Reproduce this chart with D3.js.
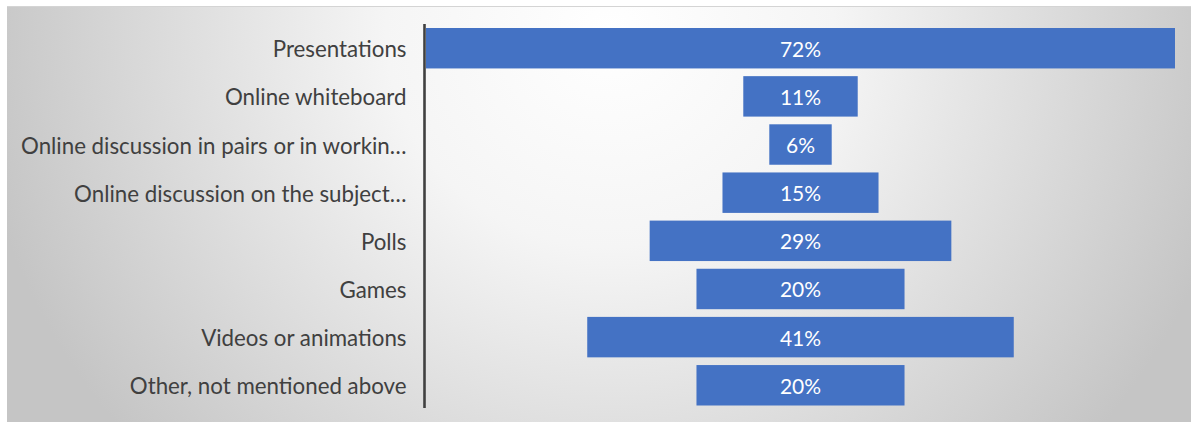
<!DOCTYPE html>
<html>
<head>
<meta charset="utf-8">
<script src="https://cdn.jsdelivr.net/npm/d3@7"></script>
<style>
  html, body { margin: 0; padding: 0; background: #ffffff; }
  svg { display: block; }
</style>
</head>
<body>
<svg id="chart" width="1191" height="422"></svg>
<script>
// Activities used in online lessons (share of respondents)
const categories = [
  "Presentations",
  "Online whiteboard",
  "Online discussion in pairs or in workin…",
  "Online discussion on the subject…",
  "Polls",
  "Games",
  "Videos or animations",
  "Other, not mentioned above"
];
const values = [72, 11, 6, 15, 29, 20, 41, 20];
const valueLabels = ["72%", "11%", "6%", "15%", "29%", "20%", "41%", "20%"];

const W = 1191, H = 422;
const svg = d3.select("#chart");

// Background panel with soft elliptical shading, lightest near the top middle
const gcx = 610, gcy = 30, grx = 640, gry = 620;
const defs = svg.append("defs");
const grad = defs.append("radialGradient")
  .attr("id", "bg")
  .attr("gradientUnits", "userSpaceOnUse")
  .attr("cx", gcx).attr("cy", gcy).attr("r", grx)
  .attr("gradientTransform",
    `translate(${gcx},${gcy}) scale(1,${gry / grx}) translate(${-gcx},${-gcy})`);
grad.append("stop").attr("offset", 0).attr("stop-color", "#ffffff");
grad.append("stop").attr("offset", 0.35).attr("stop-color", "#f5f5f5");
grad.append("stop").attr("offset", 1).attr("stop-color", "#c5c5c5");

svg.append("rect")
  .attr("x", 7).attr("y", 6)
  .attr("width", W - 7).attr("height", H - 6)
  .attr("fill", "url(#bg)");
svg.append("line")
  .attr("x1", 7).attr("x2", W).attr("y1", 6.5).attr("y2", 6.5)
  .attr("stroke", "#d4d4d4").attr("stroke-width", 1);

// Scales: bars are centred around the middle of the plot area
const maxV = d3.max(values);
const x = d3.scaleLinear().domain([-maxV / 2, maxV / 2]).range([426, 1175]);
const y = d3.scaleBand().domain(categories).range([28, 405.5])
  .paddingInner(0.16).paddingOuter(0);

// Bars
svg.append("g").selectAll("rect")
  .data(categories)
  .join("rect")
  .attr("x", (d, i) => x(-values[i] / 2))
  .attr("width", (d, i) => x(values[i] / 2) - x(-values[i] / 2))
  .attr("y", d => y(d))
  .attr("height", y.bandwidth())
  .attr("fill", "#4472c4");

// Value labels inside bars
svg.append("g").selectAll("text")
  .data(categories)
  .join("text")
  .attr("x", x(0))
  .attr("y", d => y(d) + y.bandwidth() / 2 + 8.5)
  .attr("text-anchor", "middle")
  .attr("font-family", "Lato, 'Open Sans', sans-serif")
  .attr("font-size", 21)
  .attr("fill", "#ffffff")
  .text((d, i) => valueLabels[i]);

// Category axis
const axis = d3.axisLeft(y).tickSize(0).tickPadding(18);
const gAxis = svg.append("g")
  .attr("transform", "translate(424.5,0)")
  .call(axis);
gAxis.select(".domain").remove();
gAxis.selectAll("text")
  .attr("font-family", "Lato, 'Open Sans', sans-serif")
  .attr("font-size", 22.3)
  .attr("fill", "#404040")
  .attr("dy", null)
  .attr("y", 9);

svg.append("line")
  .attr("x1", 424.5).attr("x2", 424.5)
  .attr("y1", 24).attr("y2", 408)
  .attr("stroke", "#404040").attr("stroke-width", 2.6);
</script>
</body>
</html>
